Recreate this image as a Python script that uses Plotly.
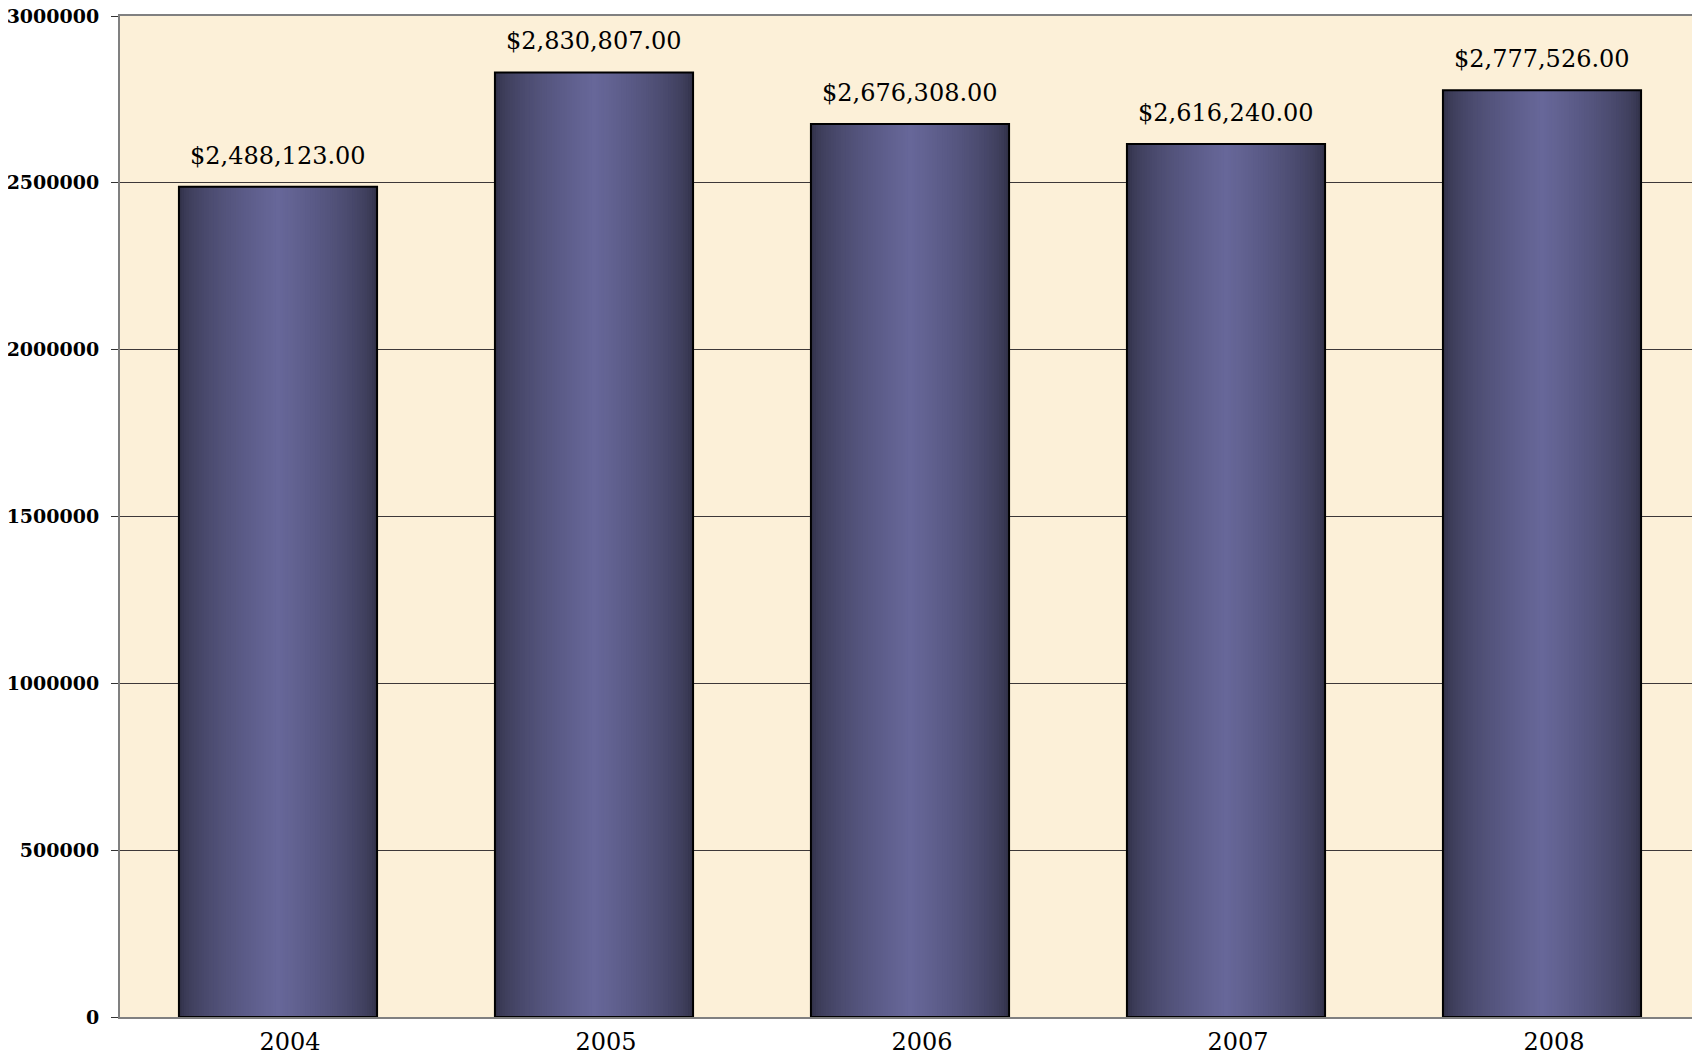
import plotly.graph_objects as go

# ---- data ----
years = ["2004", "2005", "2006", "2007", "2008"]
amounts = [2488123.00, 2830807.00, 2676308.00, 2616240.00, 2777526.00]
y_tick_vals = [0, 500000, 1000000, 1500000, 2000000, 2500000, 3000000]
y_tick_text = ["0", "500000", "1000000", "1500000", "2000000", "2500000", "3000000"]

# ---- style ----
BAR_W = 0.627
EDGE = (0x31, 0x31, 0x48)
CENTER = (0x67, 0x67, 0x99)
N_LAYERS = 40


def mix(t):
    f = t ** 0.6
    return "rgb(%d,%d,%d)" % tuple(round(e + (c - e) * f) for e, c in zip(EDGE, CENTER))


fig = go.Figure()

# gradient built from overlaid bars of decreasing width
for k in range(N_LAYERS):
    t = k / (N_LAYERS - 1)
    w = BAR_W * (1 - k / N_LAYERS)
    fig.add_trace(go.Bar(
        x=years, y=amounts, width=w,
        marker=dict(color=mix(t), line=dict(width=0)),
        hoverinfo="skip", showlegend=False,
    ))

# outline
fig.add_trace(go.Bar(
    x=years, y=amounts, width=BAR_W,
    marker=dict(color="rgba(0,0,0,0)", line=dict(color="#000000", width=2)),
    showlegend=False,
    hovertemplate="%{x}: $%{y:,.2f}<extra></extra>",
))

for i, v in enumerate(amounts):
    fig.add_annotation(
        x=i, y=v, xref="x", yref="y", text="${:,.2f}".format(v), showarrow=False,
        yanchor="middle", yshift=31,
        font=dict(family="DejaVu Serif", size=24, color="#000000"),
    )

# page body adds an 8px margin, so the figure is sized/offset to compensate
fig.update_layout(
    width=1692, height=1052,
    barmode="overlay",
    paper_bgcolor="#ffffff",
    plot_bgcolor="#fcf0d8",
    margin=dict(l=112, r=0, t=8, b=43),
    showlegend=False,
)

fig.update_xaxes(
    type="category", range=[-0.5, len(years) - 0.5], automargin=False,
    showline=True, linecolor="#808080", linewidth=2, mirror=True,
    showgrid=False, ticks="",
    tickfont=dict(family="DejaVu Serif", size=24, color="#000000"),
    ticklabelshift=12, ticklabelstandoff=2,
)

fig.update_yaxes(
    range=[0, 3000000], automargin=False,
    tickvals=y_tick_vals, ticktext=y_tick_text,
    showline=True, linecolor="#808080", linewidth=2,
    showgrid=True, gridcolor="#3d3838", gridwidth=1,
    zeroline=False,
    ticks="outside", ticklen=7, tickcolor="#333333", tickwidth=1,
    ticklabelstandoff=8, ticklabeloverflow="allow",
    tickfont=dict(family="DejaVu Serif", size=19, color="#000000", weight="bold"),
)

fig.write_html("out.html")
